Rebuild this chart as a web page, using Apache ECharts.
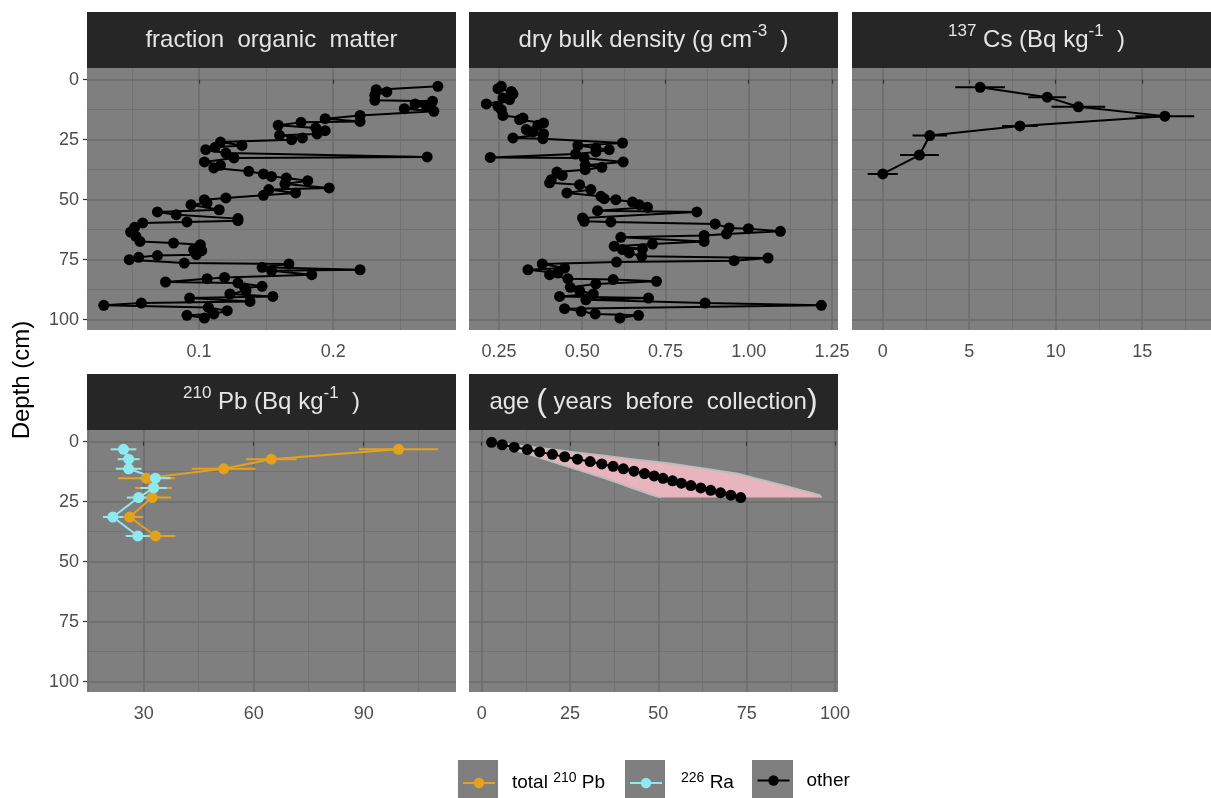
<!DOCTYPE html>
<html>
<head>
<meta charset="utf-8">
<script src="https://cdn.jsdelivr.net/npm/echarts@6/dist/echarts.min.js"></script>
<style>
html,body{margin:0;padding:0;background:#ffffff;}
#c{width:1211px;height:798px;}
</style>
</head>
<body>
<div id="c"></div>
<script>
// ---------------- DATA ----------------
const omDepth = [2.8,4.2,5.1,6.5,8.6,9.0,10.1,10.7,12.1,13.2,14.9,16.25,17.4,17.8,19.0,20.1,21.25,22.6,23.2,24.3,25.0,26.0,27.4,28.2,29.2,30.6,32.2,32.6,34.3,35.7,36.8,38.2,39.3,40.3,41.0,42.1,43.5,45.1,45.8,47.2,48.2,49.3,50.0,51.4,52.1,54.2,55.1,56.25,57.9,58.75,59.3,59.7,61.5,63.5,65.3,67.4,68.1,68.75,70.8,71.25,72.9,73.3,74.0,75.0,76.4,76.8,78.2,79.2,79.6,81.25,82.4,82.9,84.3,84.7,86.1,86.8,87.9,89.3,90.3,91.0,92.4,93.1,94.0,94.9,96.25,97.6,98.2,99.3];
const omValue = [0.278,0.232,0.240,0.231,0.231,0.274,0.261,0.269,0.253,0.275,0.220,0.194,0.220,0.176,0.159,0.187,0.194,0.188,0.160,0.177,0.169,0.116,0.132,0.112,0.105,0.120,0.270,0.126,0.104,0.116,0.111,0.137,0.148,0.154,0.165,0.181,0.164,0.197,0.152,0.172,0.148,0.120,0.104,0.106,0.094,0.115,0.069,0.083,0.129,0.129,0.091,0.058,0.052,0.049,0.053,0.056,0.081,0.101,0.096,0.102,0.098,0.069,0.055,0.048,0.089,0.167,0.147,0.220,0.154,0.184,0.119,0.106,0.075,0.129,0.147,0.134,0.135,0.123,0.155,0.093,0.138,0.057,0.029,0.107,0.121,0.111,0.091,0.104];

const dbdDepth = [2.8,3.75,4.9,6.0,7.6,8.3,10.1,11.1,12.5,14.9,16.0,16.7,18.1,19.0,20.8,21.8,22.6,24.3,24.6,26.4,27.4,28.5,29.2,30.1,31.0,32.4,32.6,34.3,35.7,36.5,37.5,38.5,39.9,41.7,43.0,43.75,45.8,47.2,48.6,49.6,50.0,51.0,52.1,53.2,54.6,55.1,57.6,59.0,59.3,60.1,61.8,62.1,63.2,64.3,64.9,65.7,67.4,68.5,69.4,70.4,70.8,72.2,73.6,74.3,75.4,76.0,76.8,78.5,79.2,80.6,81.25,82.9,83.3,84.0,85.1,86.5,87.9,89.3,90.3,91.0,91.7,93.1,94.0,95.4,96.5,97.6,98.2,99.3];
const dbdValue = [0.257,0.247,0.287,0.292,0.262,0.282,0.212,0.247,0.257,0.262,0.322,0.312,0.384,0.367,0.332,0.352,0.384,0.292,0.382,0.621,0.487,0.541,0.581,0.541,0.480,0.224,0.506,0.623,0.509,0.559,0.509,0.424,0.440,0.407,0.402,0.492,0.526,0.454,0.556,0.566,0.601,0.651,0.671,0.696,0.546,0.844,0.501,0.506,0.586,0.899,0.941,0.999,1.095,0.933,0.866,0.616,0.866,0.711,0.596,0.681,0.621,0.641,0.679,1.058,0.956,0.603,0.380,0.447,0.337,0.427,0.402,0.457,0.593,0.723,0.541,0.464,0.492,0.533,0.432,0.699,0.511,0.869,1.218,0.447,0.497,0.539,0.669,0.613];

const radioDepth = [3.2,7.3,11.3,15.2,19.3,23.3,31.4,39.3];
const csValue = [5.63,9.51,11.31,16.31,7.93,2.72,2.12,0.0];
const csErr   = [1.44,1.10,1.55,1.70,1.03,1.00,1.12,0.87];
const pbValue = [99.5,64.8,51.8,30.7,32.7,32.3,26.2,33.2];
const pbErr   = [10.8,6.9,8.7,7.7,5.0,5.2,3.7,5.45];
const raValue = [24.5,25.9,25.9,33.2,32.7,28.6,21.6,28.4];
const raErr   = [3.5,3.0,3.5,4.1,3.6,3.2,2.7,3.3];

const ageDepth = [0.3,1.3,2.3,3.3,4.3,5.3,6.3,7.3,8.3,9.3,10.3,11.3,12.3,13.3,14.3,15.3,16.3,17.3,18.3,19.3,20.3,21.3,22.3,23.3];
const ageValue = [2.8,5.8,9.2,12.9,16.4,20.0,23.5,27.1,30.7,34.0,37.2,40.1,43.1,46.1,48.8,51.3,54.0,56.5,59.2,62.0,64.8,67.6,70.5,73.3];
const ageLow   = [2.8,4.9,7.1,9.2,11.4,13.5,15.7,17.8,20.0,22.1,24.3,26.4,28.6,30.7,32.9,34.9,36.9,38.8,40.7,42.6,44.6,46.5,48.4,50.7];
const ageHigh  = [3.0,8.5,14.5,20.0,25.5,31.0,37.0,42.5,48.5,54.3,58.8,63.3,67.8,72.2,74.9,77.5,80.2,82.8,85.5,88.1,90.6,93.2,95.6,96.2];

const depthTicks = [0,25,50,75,100];
const depthMinor = [12.5,37.5,62.5,87.5];
const omTicks = [0.1,0.2];
const omMinor = [0.05,0.15,0.25];
const dbdTicks = [0.25,0.5,0.75,1.0,1.25];
const dbdMinor = [0.375,0.625,0.875,1.125];
const csTicks = [0,5,10,15];
const csMinor = [2.5,7.5,12.5,17.5];
const pbTicks = [30,60,90];
const pbMinor = [15,45,75,105];
const ageTicks = [0,25,50,75,100];
const ageMinor = [12.5,37.5,62.5,87.5];

const seriesNames = ['total 210Pb','226Ra','other'];

// ---------------- STYLE / LAYOUT ----------------
const FONT = 'Liberation Sans, Arial, sans-serif';
const PANEL_BG = '#7f7f7f';
const GRID_MAJOR = '#6b6b6b';
const GRID_MINOR = '#6f6f6f';
const ORANGE = '#e4a11b';
const CYAN = '#8eeaf0';
const PW = 369, PH = 262;
const Y_MIN = -4.85, Y_MAX = 104.3;
const gridPos = [[87,68],[469,68],[852,68],[87,430],[469,430]];

const grids = gridPos.map(p => ({left:p[0], top:p[1], width:PW, height:PH, show:true, backgroundColor:PANEL_BG, borderWidth:0, containLabel:false}));

function majorX(gi, min, max, ticks, step, fmt){
  return {type:'value', gridIndex:gi, min:min, max:max, position:'bottom', minInterval:step, maxInterval:step,
    axisLine:{show:false},
    axisTick:{show:true, length:4, customValues:ticks, lineStyle:{color:'#333333', width:1.2}},
    axisLabel:{show:true, customValues:ticks, color:'#4d4d4d', fontSize:18, fontFamily:FONT, margin:13, formatter:fmt},
    splitLine:{show:true, lineStyle:{color:GRID_MAJOR, width:1.5}}};
}
function minorX(gi, min, max, ticks, step){
  return {type:'value', gridIndex:gi, min:min, max:max, position:'top', minInterval:step, maxInterval:step,
    axisLine:{show:false}, axisTick:{show:false, customValues:ticks}, axisLabel:{show:false},
    splitLine:{show:true, lineStyle:{color:GRID_MINOR, width:0.8}}};
}
function majorY(gi, show){
  return {type:'value', gridIndex:gi, inverse:true, min:Y_MIN, max:Y_MAX, minInterval:25, maxInterval:25,
    axisLine:{show:false},
    axisTick:{show:show, length:4, customValues:depthTicks, lineStyle:{color:'#333333', width:1.2}},
    axisLabel:{show:show, customValues:depthTicks, color:'#4d4d4d', fontSize:18, fontFamily:FONT, margin:8},
    splitLine:{show:true, lineStyle:{color:GRID_MAJOR, width:1.5}}};
}
function minorY(gi){
  return {type:'value', gridIndex:gi, inverse:true, min:Y_MIN, max:Y_MAX, position:'right', minInterval:12.5, maxInterval:12.5,
    axisLine:{show:false}, axisTick:{show:false, customValues:depthMinor}, axisLabel:{show:false},
    splitLine:{show:true, lineStyle:{color:GRID_MINOR, width:0.8}}};
}

const xAxes = [
  majorX(0, 0.0165, 0.2915, omTicks, 0.1, v => String(v)),
  majorX(1, 0.16, 1.268, dbdTicks, 0.25, v => Number(v).toFixed(2)),
  majorX(2, -1.78, 18.98, csTicks, 5, v => String(v)),
  majorX(3, 14.54, 115.17, pbTicks, 30, v => String(v)),
  majorX(4, -3.6, 100.85, ageTicks, 25, v => String(v)),
  minorX(0, 0.0165, 0.2915, omMinor, 0.05),
  minorX(1, 0.16, 1.268, dbdMinor, 0.125),
  minorX(2, -1.78, 18.98, csMinor, 2.5),
  minorX(3, 14.54, 115.17, pbMinor, 15),
  minorX(4, -3.6, 100.85, ageMinor, 12.5)
];
const yAxes = [
  majorY(0,true), majorY(1,false), majorY(2,false), majorY(3,true), majorY(4,false),
  minorY(0), minorY(1), minorY(2), minorY(3), minorY(4)
];

function pairs(xs, ys){ return xs.map((x,i) => [x, ys[i]]); }

function lineSeries(name, xi, data, color){
  return {type:'line', name:name, xAxisIndex:xi, yAxisIndex:xi, data:data,
    symbol:'circle', symbolSize:11, showSymbol:true, silent:true, animation:false,
    lineStyle:{color:color, width:2}, itemStyle:{color:color}, emphasis:{disabled:true}, z:3};
}
function errSeries(name, xi, vals, errs, depths, color){
  return {type:'custom', name:name, xAxisIndex:xi, yAxisIndex:xi, silent:true, animation:false, z:2,
    encode:{x:[0,1], y:2},
    data: vals.map((v,i) => [v - errs[i], v + errs[i], depths[i]]),
    renderItem: function(params, api){
      const a = api.coord([api.value(0), api.value(2)]);
      const b = api.coord([api.value(1), api.value(2)]);
      return {type:'line', shape:{x1:a[0], y1:a[1], x2:b[0], y2:b[1]}, style:{stroke:color, lineWidth:2}};
    }};
}

const ribbonSeries = {type:'custom', name:'ribbon', xAxisIndex:4, yAxisIndex:4, silent:true, animation:false, z:1,
  encode:{x:[0,1], y:2},
  data: ageDepth.map((d,i) => [ageLow[i], ageHigh[i], d]),
  renderItem: function(params, api){
    if (params.dataIndex !== 0) return null;
    const hi = [], lo = [];
    for (let i = 0; i < ageDepth.length; i++){
      hi.push(api.coord([ageHigh[i], ageDepth[i]]));
      lo.push(api.coord([ageLow[i], ageDepth[i]]));
    }
    const poly = hi.concat(lo.slice().reverse());
    return {type:'group', children:[
      {type:'polygon', shape:{points:poly}, style:{fill:'#e8b4be', stroke:null}},
      {type:'polyline', shape:{points:hi}, style:{stroke:'#bdbdbd', lineWidth:2, fill:null}},
      {type:'polyline', shape:{points:lo}, style:{stroke:'#bdbdbd', lineWidth:2, fill:null}}
    ]};
  }};

const series = [
  lineSeries(seriesNames[2], 0, pairs(omValue, omDepth), '#000000'),
  lineSeries(seriesNames[2], 1, pairs(dbdValue, dbdDepth), '#000000'),
  errSeries('cs-err', 2, csValue, csErr, radioDepth, '#000000'),
  lineSeries(seriesNames[2], 2, pairs(csValue, radioDepth), '#000000'),
  errSeries('pb-err', 3, pbValue, pbErr, radioDepth, ORANGE),
  lineSeries(seriesNames[0], 3, pairs(pbValue, radioDepth), ORANGE),
  errSeries('ra-err', 3, raValue, raErr, radioDepth, CYAN),
  lineSeries(seriesNames[1], 3, pairs(raValue, radioDepth), CYAN),
  ribbonSeries,
  lineSeries(seriesNames[2], 4, pairs(ageValue, ageDepth), '#000000')
];

// strip texts
const stripRich = {
  n:{fontSize:24, lineHeight:34, fontFamily:FONT, fill:'#e5e5e5', color:'#e5e5e5'},
  s:{fontSize:17, lineHeight:17, fontFamily:FONT, fill:'#e5e5e5', color:'#e5e5e5', verticalAlign:'top'},
  b:{fontSize:32, lineHeight:34, fontFamily:FONT, fill:'#e5e5e5', color:'#e5e5e5'}
};
function strip(x, y, text){
  return [
    {type:'rect', shape:{x:x, y:y, width:PW, height:56}, style:{fill:'#262626'}, silent:true},
    {type:'text', x:x + PW/2, y:y + 28, silent:true,
      style:{text:text, align:'center', verticalAlign:'middle', fontSize:24, fontFamily:FONT, fill:'#e5e5e5', rich:stripRich}}
  ];
}
const graphics = [].concat(
  strip(87, 12, '{n|fraction  organic  matter}'),
  strip(469, 12, '{n|dry bulk density (g cm}{s|-3}{n|  )}'),
  strip(852, 12, '{s|137}{n| Cs (Bq kg}{s|-1}{n|  )}'),
  strip(87, 374, '{s|210}{n| Pb (Bq kg}{s|-1}{n|  )}'),
  strip(469, 374, '{n|age }{b|(}{n| years  before  collection}{b|)}'),
  [
    {type:'text', x:22, y:380, rotation:Math.PI/2, silent:true,
      style:{text:'Depth (cm)', align:'center', verticalAlign:'middle', fontSize:24, fontFamily:FONT, fill:'#000000'}},
    {type:'rect', shape:{x:458, y:760, width:40, height:40}, style:{fill:PANEL_BG}, silent:true, z:-1},
    {type:'rect', shape:{x:625, y:760, width:40, height:40}, style:{fill:PANEL_BG}, silent:true, z:-1},
    {type:'rect', shape:{x:752, y:760, width:41, height:40}, style:{fill:PANEL_BG}, silent:true, z:-1}
  ]
);

const legRich = {
  g1:{width:12}, g2:{width:14}, g3:{width:12},
  t:{fontSize:19, lineHeight:24, fontFamily:FONT, color:'#000000'},
  s:{fontSize:14, lineHeight:14, fontFamily:FONT, color:'#000000', verticalAlign:'top'}
};
function legend(name, left, fmt){
  return {data:[name], left:left, top:771, orient:'horizontal', padding:0, itemWidth:32, itemHeight:13,
    selectedMode:false, formatter:fmt, lineStyle:{width:2},
    textStyle:{fontSize:19, fontFamily:FONT, color:'#000000', rich:legRich}};
}

const option = {
  backgroundColor:'#ffffff',
  animation:false,
  grid: grids,
  xAxis: xAxes,
  yAxis: yAxes,
  series: series,
  graphic: graphics,
  legend: [
    legend(seriesNames[0], 462, () => '{g1|}{t|total }{s|210}{t| Pb}'),
    legend(seriesNames[1], 629, () => '{g2|}{s|226}{t| Ra}'),
    legend(seriesNames[2], 756.5, () => '{g3|}{t|other}')
  ]
};

const chart = echarts.init(document.getElementById('c'), null, {renderer:'canvas'});
chart.setOption(option);
</script>
</body>
</html>
